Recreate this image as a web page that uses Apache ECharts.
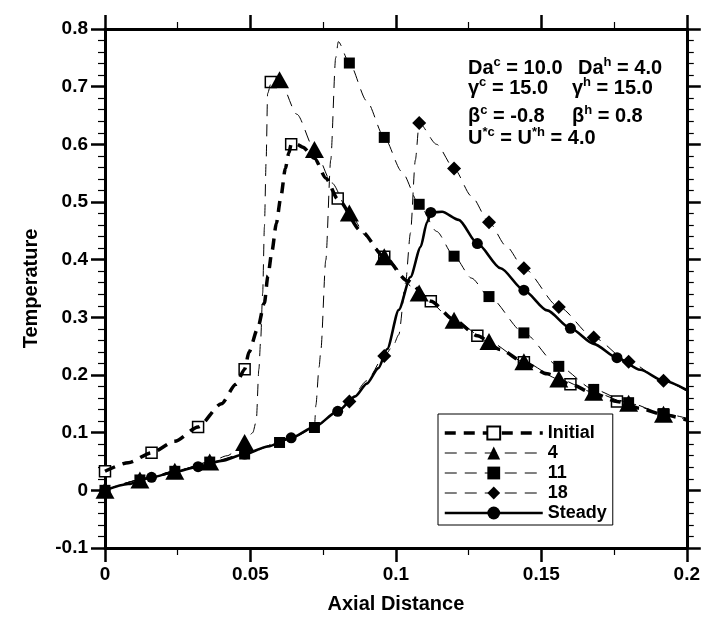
<!DOCTYPE html>
<html>
<head>
<meta charset="utf-8">
<script src="https://cdn.jsdelivr.net/npm/echarts@6/dist/echarts.min.js"></script>
<style>
html,body{margin:0;padding:0;background:#fff;}
#chart{width:703px;height:629px;}
</style>
</head>
<body>
<div id="chart"></div>
<script>
// ---- Data ----
const seriesNames = ['Initial', '4', '11', '18', 'Steady'];
const xTickLabels = ['0', '0.05', '0.1', '0.15', '0.2'];
const yTickLabels = ['-0.1', '0', '0.1', '0.2', '0.3', '0.4', '0.5', '0.6', '0.7', '0.8'];

const initialLine = [[0,0.033],[0.008,0.048],[0.016,0.065],[0.024,0.085],[0.032,0.11],[0.04,0.15],[0.045,0.184],[0.048,0.21],[0.0495,0.24],[0.0525,0.281],[0.0548,0.325],[0.056,0.372],[0.0574,0.415],[0.0589,0.463],[0.0604,0.507],[0.062,0.558],[0.0632,0.585],[0.064,0.6],[0.066,0.6],[0.068,0.595],[0.072,0.576],[0.076,0.541],[0.08,0.505],[0.088,0.45],[0.096,0.405],[0.104,0.363],[0.112,0.328],[0.12,0.296],[0.128,0.268],[0.136,0.244],[0.144,0.222],[0.152,0.202],[0.16,0.184],[0.168,0.168],[0.176,0.154],[0.184,0.142],[0.192,0.131],[0.2,0.122]];
const initialMarks = [[0,0.033],[0.016,0.065],[0.032,0.11],[0.048,0.21],[0.057,0.708],[0.064,0.6],[0.08,0.506],[0.096,0.405],[0.112,0.328],[0.128,0.268],[0.144,0.222],[0.16,0.184],[0.176,0.154],[0.192,0.131]];

const line4 = [[0,0],[0.012,0.018],[0.024,0.033],[0.036,0.049],[0.042,0.06],[0.046,0.072],[0.048,0.083],[0.0508,0.1],[0.052,0.12],[0.0529,0.21],[0.0535,0.26],[0.0542,0.342],[0.0548,0.457],[0.0554,0.573],[0.0559,0.688],[0.057,0.705],[0.06,0.712],[0.066,0.652],[0.072,0.591],[0.078,0.533],[0.084,0.481],[0.09,0.44],[0.096,0.405],[0.108,0.342],[0.12,0.295],[0.132,0.258],[0.144,0.223],[0.156,0.193],[0.168,0.17],[0.18,0.151],[0.192,0.132],[0.2,0.122]];
const marks4 = [[0,0],[0.012,0.018],[0.024,0.033],[0.036,0.049],[0.048,0.083],[0.06,0.712],[0.072,0.591],[0.084,0.481],[0.096,0.405],[0.108,0.342],[0.12,0.295],[0.132,0.258],[0.144,0.223],[0.156,0.193],[0.168,0.17],[0.18,0.151],[0.192,0.132]];

const line11 = [[0,0],[0.012,0.018],[0.024,0.033],[0.036,0.049],[0.048,0.063],[0.06,0.083],[0.066,0.095],[0.072,0.109],[0.0725,0.148],[0.0736,0.214],[0.0742,0.243],[0.0759,0.399],[0.0776,0.573],[0.0793,0.75],[0.0802,0.778],[0.084,0.741],[0.09,0.675],[0.096,0.612],[0.102,0.553],[0.108,0.496],[0.114,0.449],[0.12,0.406],[0.126,0.368],[0.132,0.336],[0.144,0.273],[0.156,0.215],[0.168,0.175],[0.18,0.152],[0.192,0.133],[0.2,0.125]];
const marks11 = [[0,0],[0.012,0.018],[0.024,0.033],[0.036,0.049],[0.048,0.063],[0.06,0.083],[0.072,0.109],[0.084,0.741],[0.096,0.612],[0.108,0.496],[0.12,0.406],[0.132,0.336],[0.144,0.273],[0.156,0.215],[0.168,0.175],[0.18,0.152],[0.192,0.133]];

const line18 = [[0,0],[0.016,0.0225],[0.032,0.041],[0.048,0.063],[0.064,0.091],[0.072,0.109],[0.08,0.137],[0.084,0.154],[0.09,0.19],[0.096,0.233],[0.099,0.25],[0.101,0.27],[0.1033,0.359],[0.105,0.446],[0.1067,0.573],[0.108,0.637],[0.114,0.6],[0.12,0.558],[0.126,0.51],[0.132,0.465],[0.138,0.423],[0.144,0.385],[0.156,0.318],[0.168,0.265],[0.18,0.223],[0.192,0.19],[0.2,0.172]];
const marks18 = [[0.084,0.154],[0.096,0.233],[0.108,0.637],[0.12,0.558],[0.132,0.465],[0.144,0.385],[0.156,0.318],[0.168,0.265],[0.18,0.223],[0.192,0.19]];

const steadyLine = [[0,0],[0.008,0.011],[0.016,0.0225],[0.024,0.032],[0.032,0.041],[0.04,0.051],[0.048,0.063],[0.056,0.076],[0.064,0.091],[0.072,0.11],[0.08,0.137],[0.086,0.163],[0.09,0.185],[0.094,0.212],[0.097,0.245],[0.101,0.313],[0.105,0.37],[0.1085,0.422],[0.1107,0.465],[0.1122,0.482],[0.1159,0.483],[0.1216,0.469],[0.128,0.428],[0.136,0.385],[0.144,0.347],[0.152,0.312],[0.16,0.281],[0.168,0.254],[0.176,0.23],[0.184,0.209],[0.192,0.19],[0.2,0.174]];
const steadyMarks = [[0,0],[0.016,0.0225],[0.032,0.041],[0.048,0.063],[0.064,0.091],[0.08,0.137],[0.112,0.482],[0.128,0.428],[0.144,0.347],[0.16,0.281],[0.176,0.23]];

// ---- Styling ----
const FONT = 'Liberation Sans, Arial, Helvetica, sans-serif';
const styles = {
  'Initial': {line: initialLine, marks: initialMarks, legendSymbol: 'emptyRect', symbol: 'rect', size: 11, width: 3.5, dash: [11, 8], fill: '#fff', border: 1.5},
  '4':       {line: line4, marks: marks4, legendSymbol: 'triangle', symbol: 'triangle', size: [19, 17], width: 1, dash: [12, 8], fill: '#000', border: 0},
  '11':      {line: line11, marks: marks11, legendSymbol: 'rect', symbol: 'rect', size: 11, width: 1, dash: [12, 8], fill: '#000', border: 0},
  '18':      {line: line18, marks: marks18, legendSymbol: 'diamond', symbol: 'diamond', size: 14, width: 1, dash: [12, 8], fill: '#000', border: 0},
  'Steady':  {line: steadyLine, marks: steadyMarks, legendSymbol: 'circle', symbol: 'circle', size: 11, width: 2.6, dash: 'solid', fill: '#000', border: 0}
};

const series = [];
seriesNames.forEach(function (name) {
  const s = styles[name];
  series.push({
    type: 'line', name: name, data: s.line,
    showSymbol: false, symbol: s.legendSymbol, symbolSize: 10,
    smooth: 0.25, smoothMonotone: 'x',
    lineStyle: {color: '#000', width: s.width, type: s.dash},
    itemStyle: {color: '#000'},
    emphasis: {disabled: true}, silent: true, animation: false
  });
  series.push({
    type: 'scatter', name: name, data: s.marks,
    symbol: s.symbol, symbolSize: s.size,
    itemStyle: {color: s.fill, borderColor: '#000', borderWidth: s.border, opacity: 1},
    emphasis: {disabled: true}, silent: true, animation: false
  });
});

function axisCommon() {
  return {
    axisLine: {show: true, onZero: false, lineStyle: {color: '#000', width: 3}},
    axisTick: {show: true, inside: false, length: 14, lineStyle: {color: '#000', width: 2.5}},
    splitLine: {show: false},
    minorSplitLine: {show: false}
  };
}

const xBase = {type: 'value', min: 0, max: 0.2, interval: 0.05};
const yBase = {type: 'value', min: -0.1, max: 0.8, interval: 0.1};

const option = {
  backgroundColor: '#fff',
  animation: false,
  grid: {left: 105, right: 14, top: 29, bottom: 81, containLabel: false},
  xAxis: [
    Object.assign({}, xBase, axisCommon(), {
      position: 'bottom',
      minorTick: {show: true, splitNumber: 2, length: 7, lineStyle: {color: '#000', width: 1.2}},
      axisLabel: {show: true, margin: 17, color: '#000', fontSize: 19, fontWeight: 'bold', fontFamily: FONT,
        formatter: function (v) { return xTickLabels[Math.round(v / 0.05)]; }},
      name: 'Axial Distance', nameLocation: 'middle', nameGap: 46,
      nameTextStyle: {color: '#000', fontSize: 20, fontWeight: 'bold', fontFamily: FONT}
    }),
    Object.assign({}, xBase, axisCommon(), {
      position: 'top',
      minorTick: {show: true, splitNumber: 2, length: 7, lineStyle: {color: '#000', width: 1.2}},
      axisLabel: {show: false}
    })
  ],
  yAxis: [
    Object.assign({}, yBase, axisCommon(), {
      position: 'left',
      minorTick: {show: true, splitNumber: 5, length: 7, lineStyle: {color: '#000', width: 1.2}},
      axisLabel: {show: true, margin: 17, color: '#000', fontSize: 19, fontWeight: 'bold', fontFamily: FONT,
        formatter: function (v) { return yTickLabels[Math.round((v + 0.1) / 0.1)]; }},
      name: 'Temperature', nameLocation: 'middle', nameGap: 64,
      nameTextStyle: {color: '#000', fontSize: 20, fontWeight: 'bold', fontFamily: FONT}
    }),
    Object.assign({}, yBase, axisCommon(), {
      position: 'right',
      minorTick: {show: true, splitNumber: 5, length: 7, lineStyle: {color: '#000', width: 1.2}},
      axisLabel: {show: false}
    })
  ],
  legend: {
    show: true, orient: 'vertical', left: 438, top: 414,
    data: seriesNames,
    itemWidth: 98, itemHeight: 16, itemGap: 2,
    padding: [10, 6, 3, 5],
    borderColor: '#000', borderWidth: 1, backgroundColor: '#fff',
    selectedMode: false,
    lineStyle: {width: 'inherit', type: 'inherit', color: 'inherit'},
    textStyle: {color: '#000', fontSize: 18, fontWeight: 'bold', fontFamily: FONT}
  },
  graphic: (function () {
    const rich = {
      n: {fontSize: 20, fontWeight: 'bold', fontFamily: FONT, fill: '#000', lineHeight: 22, verticalAlign: 'bottom'},
      s: {fontSize: 13, fontWeight: 'bold', fontFamily: FONT, fill: '#000', lineHeight: 14, verticalAlign: 'top'}
    };
    function t(x, y, text) {
      return {type: 'text', x: x, y: y, z: 100, style: {text: text, rich: rich, fill: '#000', verticalAlign: 'top', align: 'left'}};
    }
    return [
      t(468, 56, '{n|Da}{s|c}{n| = 10.0}'),
      t(578, 56, '{n|Da}{s|h}{n| = 4.0}'),
      t(468, 76, '{n|γ}{s|c}{n| = 15.0}'),
      t(572, 76, '{n|γ}{s|h}{n| = 15.0}'),
      t(468, 104, '{n|β}{s|c}{n| = -0.8}'),
      t(572, 104, '{n|β}{s|h}{n| = 0.8}'),
      t(468, 126, '{n|U}{s|*c}{n| = U}{s|*h}{n| = 4.0}')
    ];
  })(),
  series: series
};

const chart = echarts.init(document.getElementById('chart'), null, {renderer: 'canvas'});
chart.setOption(option);
</script>
</body>
</html>
